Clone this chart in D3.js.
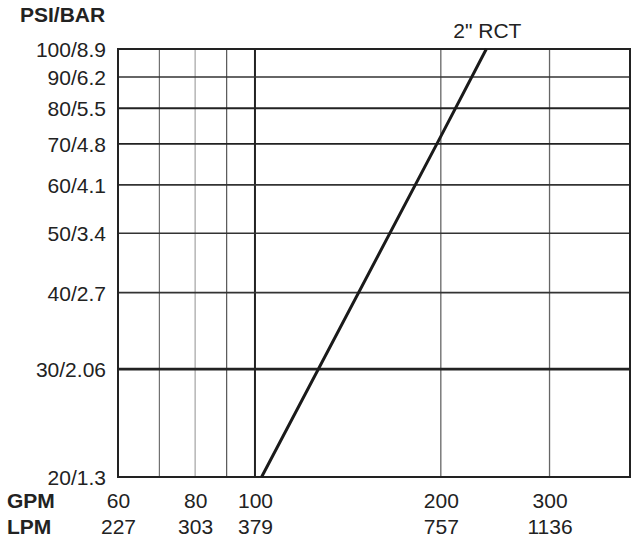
<!DOCTYPE html>
<html>
<head>
<meta charset="utf-8">
<script src="https://cdn.jsdelivr.net/npm/d3@7"></script>
<style>
  body { margin: 0; background: #fff; }
  text { font-family: "Liberation Sans", Arial, sans-serif; fill: #222; }
</style>
</head>
<body>
<svg id="chart" width="633" height="540"></svg>
<script>
  // chart values
  var psi = [20, 30, 40, 50, 60, 70, 80, 90, 100];
  var bar = ["1.3", "2.06", "2.7", "3.4", "4.1", "4.8", "5.5", "6.2", "8.9"];
  var gpmTicks = [60, 80, 100, 200, 300];
  var lpmTicks = ["227", "303", "379", "757", "1136"];
  var gpmGrid = [70, 80, 90, 100, 200, 300];
  var rctGpm = [102.5, 200, 237];
  var rctPsi = [20, 72, 100];

  // line look per gridline value
  var hStyle = {30: [2.6, "#222"], 40: [1.8, "#333"], 50: [1.5, "#333"], 60: [1.6, "#333"],
                70: [1.8, "#222"], 80: [2, "#222"], 90: [1.4, "#333"]};
  var vStyle = {70: [1, "#555"], 80: [1.3, "#aaa"], 90: [1, "#333"], 100: [2, "#222"],
                200: [1.3, "#666"], 300: [1.3, "#666"]};
  var fs = "21px";

  var svg = d3.select("#chart");
  var x = d3.scaleLog().domain([60, 405]).range([118, 630]);
  var y = d3.scaleLog().domain([20, 100]).range([477, 49]);

  svg.append("g").selectAll("line").data(gpmGrid).enter().append("line")
      .attr("x1", (d) => x(d)).attr("x2", (d) => x(d))
      .attr("y1", y(20)).attr("y2", y(100))
      .attr("stroke", (d) => vStyle[d][1])
      .attr("stroke-width", (d) => vStyle[d][0]);

  svg.append("g").selectAll("line").data(psi.slice(1, -1)).enter().append("line")
      .attr("x1", x(60)).attr("x2", x(405))
      .attr("y1", (d) => y(d)).attr("y2", (d) => y(d))
      .attr("stroke", (d) => hStyle[d][1])
      .attr("stroke-width", (d) => hStyle[d][0]);

  // frame
  svg.append("rect")
      .attr("x", x(60)).attr("y", y(100))
      .attr("width", x(405) - x(60)).attr("height", y(20) - y(100))
      .attr("fill", "none").attr("stroke", "#222").attr("stroke-width", 2);

  // 2" RCT curve
  var pts = rctGpm.map((g, i) => [g, rctPsi[i]]);
  svg.append("path")
      .datum(pts)
      .attr("d", d3.line().x((d) => x(d[0])).y((d) => y(d[1])))
      .attr("fill", "none").attr("stroke", "#1a1a1a").attr("stroke-width", 3);
  svg.append("text")
      .attr("x", x(rctGpm[2]) + 1).attr("y", 38)
      .attr("text-anchor", "middle").style("font-size", fs)
      .text("2\" RCT");

  // left axis labels
  var yAxis = d3.axisLeft(y).tickValues(psi).tickSize(0).tickPadding(12)
      .tickFormat((d) => d + "/" + bar[psi.indexOf(d)]);
  var ga = svg.append("g").attr("transform", "translate(" + x(60) + ",0)").call(yAxis);
  ga.select(".domain").remove();
  ga.selectAll("text").style("font-size", fs).style("font-family", null)
      .attr("fill", "#222").attr("dy", "0.36em");

  svg.append("text").attr("x", 20).attr("y", 22)
      .style("font-size", fs).style("font-weight", "bold")
      .text("PSI/BAR");

  // bottom axis labels
  var gpmAxis = d3.axisBottom(x).tickValues(gpmTicks).tickSize(0).tickPadding(0)
      .tickFormat((d) => d);
  var gb = svg.append("g").attr("transform", "translate(0,493)").call(gpmAxis);
  var lpmAxis = d3.axisBottom(x).tickValues(gpmTicks).tickSize(0).tickPadding(0)
      .tickFormat((d, i) => lpmTicks[i]);
  var gc = svg.append("g").attr("transform", "translate(0,519)").call(lpmAxis);
  [gb, gc].forEach(function (g) {
      g.select(".domain").remove();
      g.selectAll("text").style("font-size", fs).style("font-family", null)
          .attr("fill", "#222").attr("dy", "0.72em");
  });

  svg.append("text").attr("x", 7).attr("y", 508)
      .style("font-size", fs).style("font-weight", "bold").text("GPM");
  svg.append("text").attr("x", 7).attr("y", 534)
      .style("font-size", fs).style("font-weight", "bold").text("LPM");
</script>
</body>
</html>
